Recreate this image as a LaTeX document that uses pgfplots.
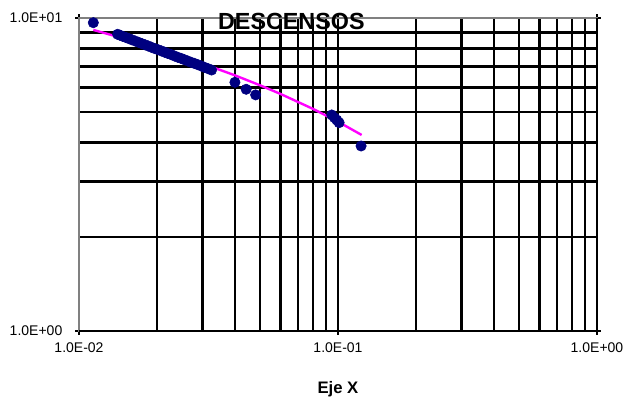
\documentclass[border=0pt]{standalone}
\usepackage{pgfplots}
\pgfplotsset{compat=1.18}
\usepackage{fontspec}
\setmainfont{Liberation Sans}
\begin{document}
\begin{tikzpicture}
\begin{axis}[
    scale only axis,
    width=388.5pt, height=234.75pt,
    xmode=log, ymode=log,
    xmin=0.01, xmax=1, ymin=1, ymax=10,
    xtick={0.01,0.1,1},
    xticklabels={1.0E-02,1.0E-01,1.0E+00},
    ytick={1,10},
    yticklabels={1.0E+00,1.0E+01},
    minor xtick={0.02,0.03,0.04,0.05,0.06,0.07,0.08,0.09,0.2,0.3,0.4,0.5,0.6,0.7,0.8,0.9},
    minor ytick={2,3,4,5,6,7,8,9},
    grid=both,
    major grid style={black, line width=1.9pt},
    minor grid style={black, line width=1.9pt},
    axis line style={gray, line width=1.4pt},
    tick align=outside,
    major tick length=3pt, minor tick length=0pt,
    tick style={black, line width=1pt},
    tick label style={font=\fontsize{10.5}{12}\selectfont},
    xticklabel style={yshift=-2pt},
    yticklabel style={xshift=-6pt},
    xlabel={\textbf{Eje X}},
    xlabel style={at={(axis description cs:0.5,-0.185)}, anchor=center, font=\fontsize{12.5}{14}\selectfont},
    clip=false,
]
% trend line
\addplot[draw={rgb,255:red,255;green,0;blue,255}, line width=1.8pt, no marks] coordinates {
(0.01136,9.16) (0.015,8.586) (0.02,7.991) (0.025,7.530) (0.03,7.153)
(0.04,6.559) (0.05,6.097) (0.06,5.720) (0.08,5.126) (0.1,4.665) (0.1234,4.23)
};
% data
\addplot[only marks, mark=*, mark size=3.9pt, color={rgb,255:red,0;green,0;blue,128}] coordinates {
(0.01136,9.66)
(0.0141,8.87) (0.0144,8.81) (0.0148,8.73) (0.0152,8.66) (0.0156,8.59)
(0.0160,8.52) (0.0165,8.44) (0.0170,8.36) (0.0175,8.28) (0.0180,8.21)
(0.0185,8.14) (0.0190,8.07) (0.0196,7.99) (0.0202,7.92) (0.0208,7.85)
(0.0214,7.78) (0.0220,7.71) (0.0227,7.64) (0.0234,7.56) (0.0241,7.49)
(0.0248,7.43) (0.0255,7.36) (0.0263,7.29) (0.0271,7.22) (0.0279,7.16)
(0.0287,7.10) (0.0296,7.03) (0.0305,6.96) (0.0315,6.89) (0.0325,6.82)
(0.0400,6.23) (0.0442,5.92) (0.0481,5.68)
(0.0946,4.90) (0.0970,4.80) (0.0990,4.72) (0.1010,4.63)
(0.1228,3.90)
};
\draw[black, line width=1.9pt] (rel axis cs:0,0) -- (rel axis cs:1,0) -- (rel axis cs:1,1);
\node[font=\bfseries\fontsize{17.5}{20}\selectfont] at (axis description cs:0.41,0.99) {DESCENSOS};
\coordinate (bl) at (axis description cs:-0.1525,-0.2332);
\coordinate (tr) at (axis description cs:1.0811,1.0575);
\end{axis}
\pgfresetboundingbox
\path[use as bounding box] (bl) rectangle (tr);
\end{tikzpicture}
\end{document}
